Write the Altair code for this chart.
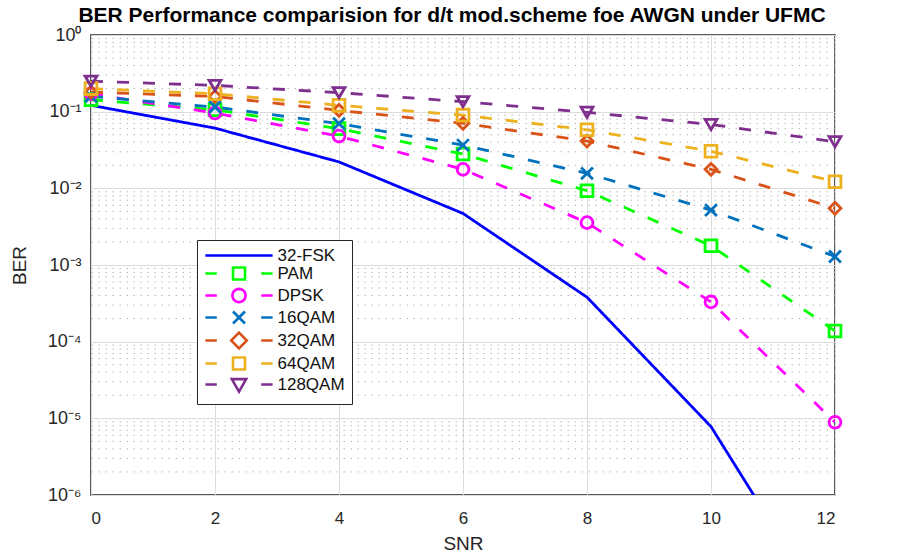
import math
import altair as alt
import pandas as pd

# SNR sweep (dB)
snr = [0, 2, 4, 6, 8, 10, 12]

series = ["32-FSK", "PAM", "DPSK", "16QAM", "32QAM", "64QAM", "128QAM"]
colors = ["#0000ff", "#00ff00", "#ff00ff", "#0072bd", "#d95319", "#edb120", "#7e2f8e"]

# Bit error rate per scheme
ber_32fsk = [0.121, 0.061, 0.0221, 0.0047, 0.00038, 7.8e-6, 2e-8]
ber_pam = [0.143, 0.106, 0.060, 0.028, 0.0093, 0.00178, 0.000138]
ber_dpsk = [0.171, 0.096, 0.048, 0.0177, 0.00357, 0.00033, 8.9e-6]
ber_16qam = [0.158, 0.115, 0.0698, 0.0367, 0.0157, 0.0052, 0.00129]
ber_32qam = [0.18, 0.158, 0.104, 0.0705, 0.0413, 0.0177, 0.0055]
ber_64qam = [0.20, 0.171, 0.121, 0.09, 0.058, 0.0305, 0.0122]
ber_128qam = [0.25, 0.22, 0.177, 0.135, 0.098, 0.068, 0.0405]

decades = [1e-6, 1e-5, 1e-4, 1e-3, 1e-2, 1e-1, 1.0]
decade_labels = ["10⁰", "10⁻¹", "10⁻²", "10⁻³", "10⁻⁴", "10⁻⁵", "10⁻⁶"]
minor_ticks = [m * 10.0 ** k for k in range(-6, 0) for m in range(2, 10)]

all_ber = [ber_32fsk, ber_pam, ber_dpsk, ber_16qam, ber_32qam, ber_64qam, ber_128qam]
rows = []
for name, vals in zip(series, all_ber):
    for s, b in zip(snr, vals):
        rows.append({"snr": s, "ber": b, "series": name})
df = pd.DataFrame(rows)
markers_df = df[df["series"] != "32-FSK"]
minor_df = pd.DataFrame({"ber": minor_ticks})

marker_series = series[1:]
marker_colors = colors[1:]
x_mark = "M-1,-1L1,1M-1,1L1,-1"
marker_shapes = ["square", "circle", x_mark, "diamond", "square", "triangle-down"]

# legend glyphs: dashed line sample with the marker in the middle
ring = "M" + "L".join(
    "%.3f,%.3f" % (1.1 * math.cos(2 * math.pi * i / 20), 1.1 * math.sin(2 * math.pi * i / 20))
    for i in range(20)
) + "Z"
dash = "M-5.6,0H-3.7M3.7,0H5.6"
legend_paths = [
    "M-5.6,0H5.6",
    dash + "M-1,-1H1V1H-1Z",
    dash + ring,
    dash + x_mark,
    dash + "M0,-1.3L1.3,0L0,1.3L-1.3,0Z",
    dash + "M-1,-1H1V1H-1Z",
    dash + "M-1.2,-0.9H1.2L0,1.2Z",
]
dash_styles = [[1, 0]] + [[12, 14]] * 6

FONT = "Liberation Sans"
label_expr = "[" + ",".join("'%s'" % s for s in decade_labels) + "][round(-log(datum.value)/LN10)]"

x_enc = alt.X(
    "snr:Q",
    scale=alt.Scale(domain=[0, 12], nice=False),
    axis=alt.Axis(
        values=[0, 2, 4, 6, 8, 10, 12], title="SNR", grid=True, gridColor="#dcdcdc",
        gridWidth=1, domain=False, ticks=False, labelFontSize=17, labelPadding=15,
        labelFont=FONT, labelColor="#262626", titleFont=FONT, titleFontSize=19,
        titleFontWeight="normal", titleColor="#262626", titlePadding=8,
    ),
)
y_enc = alt.Y(
    "ber:Q",
    scale=alt.Scale(type="log", domain=[1e-6, 1], nice=False),
    axis=alt.Axis(
        values=decades, labelExpr=label_expr, title="BER", grid=True, gridColor="#dcdcdc",
        gridWidth=1, domain=False, ticks=False, labelFontSize=18, labelPadding=10,
        labelFont=FONT, labelColor="#262626", titleFont=FONT, titleFontSize=19,
        titleFontWeight="normal", titleColor="#262626", titlePadding=18,
    ),
)

minor_grid = alt.Chart(minor_df).mark_rule(
    color="#b8b8b8", strokeWidth=1, strokeDash=[1.5, 5.5]
).encode(y=y_enc)

lines = alt.Chart(df).mark_line(clip=True, strokeWidth=2.8).encode(
    x=x_enc,
    y=y_enc,
    color=alt.Color("series:N", scale=alt.Scale(domain=series, range=colors), legend=None),
    strokeDash=alt.StrokeDash("series:N", scale=alt.Scale(domain=series, range=dash_styles), legend=None),
    detail="series:N",
)

points = alt.Chart(markers_df).mark_point(filled=False, size=140, strokeWidth=2.8, opacity=1).encode(
    x=x_enc,
    y=y_enc,
    color=alt.Color("series:N", scale=alt.Scale(domain=marker_series, range=marker_colors), legend=None),
    shape=alt.Shape("series:N", scale=alt.Scale(domain=marker_series, range=marker_shapes), legend=None),
)

legend_def = alt.Legend(
    title=None, orient="none", legendX=106, legendY=205, padding=7,
    fillColor="white", strokeColor="#262626", symbolSize=144, symbolStrokeWidth=2.6,
    symbolOpacity=1, symbolOffset=26.5, labelOffset=30, labelFontSize=17,
    labelFont=FONT, labelColor="#111111", rowPadding=-2,
)
legend_layer = alt.Chart(df).mark_point(filled=False, opacity=0).encode(
    x=x_enc,
    y=y_enc,
    color=alt.Color("series:N", scale=alt.Scale(domain=series, range=colors), legend=legend_def),
    shape=alt.Shape("series:N", scale=alt.Scale(domain=series, range=legend_paths), legend=legend_def),
)

chart = (
    alt.layer(minor_grid, lines, points, legend_layer)
    .resolve_scale(color="independent", shape="independent", strokeDash="independent")
    .properties(
        width=744,
        height=460,
        padding={"left": 91, "top": 35, "right": 71, "bottom": 58},
        autosize=alt.AutoSizeParams(type="none"),
        title=alt.Title(
            "BER Performance comparision for d/t mod.scheme foe AWGN under UFMC",
            font=FONT, fontSize=21, fontWeight="bold", color="#000000",
            anchor="middle", dx=-11, dy=6, offset=6,
        ),
    )
    .configure_view(stroke="#262626", strokeWidth=1.5)
)

chart.save("out.html", embed_options={"renderer": "svg", "actions": False})
